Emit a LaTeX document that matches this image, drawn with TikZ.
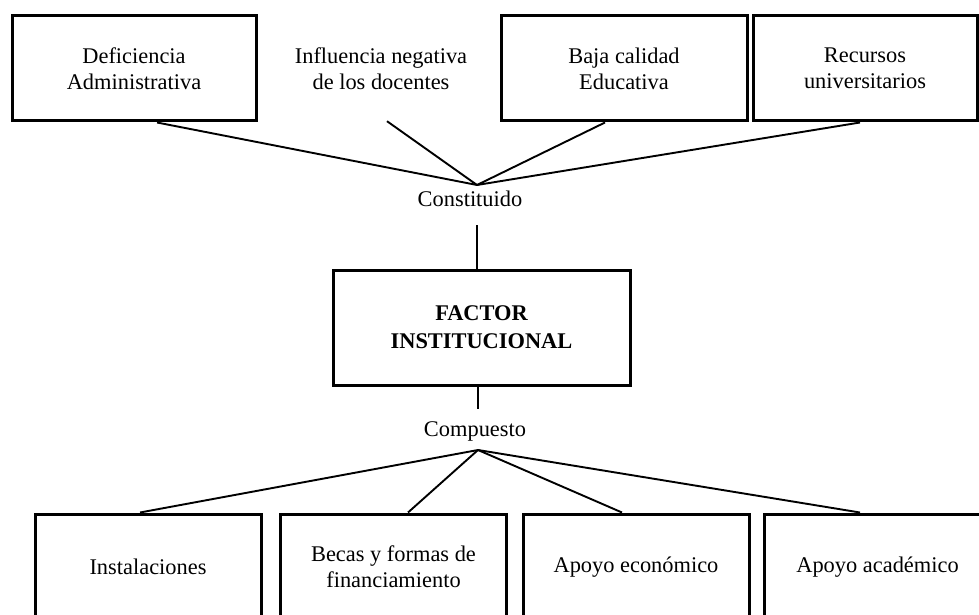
\documentclass[tikz,border=0pt]{standalone}
\usepackage{fontspec}
\setmainfont{Liberation Serif}
\usetikzlibrary{positioning}

\begin{document}
\begin{tikzpicture}[x=1pt, y=-1pt, font=\fontsize{22.4}{26}\selectfont,
  box/.style={draw, line width=3pt, align=center, inner sep=0pt},
  plain/.style={align=center, inner sep=0pt},
  conn/.style={line width=1.9pt}]

\useasboundingbox (0,0) rectangle (979,615);
\clip (0,0) rectangle (979,615);

% Top elements
\node[box, minimum width=244pt, minimum height=105pt] (defic) at (134,68.5) {Deficiencia\\Administrativa};
\node[plain, minimum width=180pt, minimum height=105pt] (influ) at (381,68.5) {Influencia negativa\\de los docentes};
\node[box, minimum width=246pt, minimum height=105pt] (baja) at (624,68.5) {Baja calidad\\Educativa};
\node[box, minimum width=224pt, minimum height=105pt] (recur) at (865,68.5) {Recursos\\universitarios};

% Join points
\coordinate (topjoin) at (477,185);
\coordinate (botjoin) at (478,450);

\node[plain] (constit) at (470,199) {Constituido};
\node[box, font=\fontsize{22.4}{28}\selectfont\bfseries, minimum width=297pt, minimum height=115pt] (factor) at (481.5,327.5) {FACTOR\\INSTITUCIONAL};
\node[plain] (compu) at (475,431) {Compuesto};

% Connections from top elements
\draw[conn] ([xshift=23pt]defic.south) -- (topjoin);
\draw[conn] ([xshift=6pt]influ.south) -- (topjoin);
\draw[conn] ([xshift=-19pt]baja.south) -- (topjoin);
\draw[conn] ([xshift=-5pt]recur.south) -- (topjoin);

% Vertical links to the central box
\draw[conn] ([yshift=-26pt]constit.center -| topjoin) -- (factor.north -| topjoin);
\draw[conn] (factor.south -| botjoin) -- ([yshift=22pt]compu.center -| botjoin);

% Bottom elements
\foreach \name/\xc/\dx/\txt in {inst/148/-8/Instalaciones, becas/393.5/14.5/Becas y formas de\\financiamiento, econ/636/-14/Apoyo económico, acad/877.5/-17.5/Apoyo académico} {
    \node[box, minimum width=226pt, minimum height=106pt] (\name) at (\xc,567) {\txt};
    \draw[conn] (botjoin) -- ([xshift=\dx pt]\name.north);
}

\end{tikzpicture}
\end{document}
